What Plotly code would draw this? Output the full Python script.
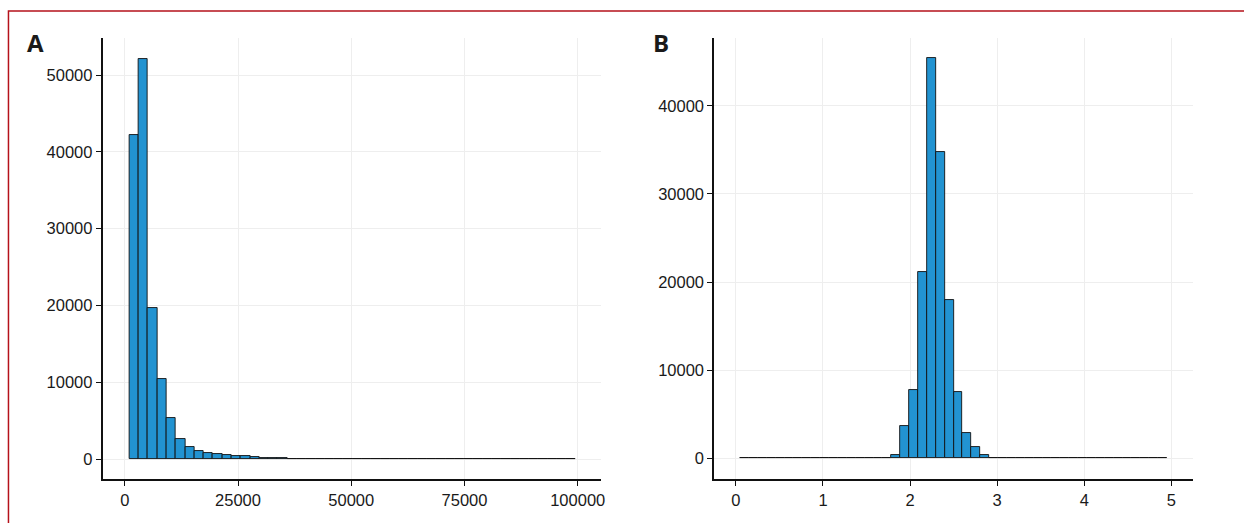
import plotly.graph_objects as go

# Panel A: histogram of raw values (48 equal-width bins)
a_bin_start = 1030
a_bin_width = 2050
a_counts = [42230, 52070, 19690, 10450, 5400, 2630, 1550, 1080, 780, 650,
            520, 430, 350, 240, 170, 120, 85, 60, 42, 30,
            22, 16, 12, 9, 7, 6, 5, 4, 4, 3,
            3, 3, 2, 2, 2, 2, 2, 1, 1, 1,
            1, 1, 1, 1, 1, 1, 1, 1]
a_xticks = [0, 25000, 50000, 75000, 100000]
a_yticks = [0, 10000, 20000, 30000, 40000, 50000]

# Panel B: histogram of log10-transformed values (48 equal-width bins)
b_bin_start = 0.05
b_bin_width = 0.1021
b_counts = [1, 1, 1, 1, 1, 1, 1, 1, 2, 2,
            2, 2, 3, 4, 6, 15, 60, 350, 3670, 7730,
            21170, 45450, 34730, 17950, 7540, 2840, 1330, 370, 90, 30,
            12, 6, 4, 3, 2, 2, 2, 1, 1, 1,
            1, 1, 1, 1, 1, 1, 1, 1]
b_xticks = [0, 1, 2, 3, 4, 5]
b_yticks = [0, 10000, 20000, 30000, 40000]

BAR_FILL = "#2293D1"
BAR_LINE = "#111111"
W, H = 1244, 523


def centers(start, width, n):
    return [start + width * (i + 0.5) for i in range(n)]


fig = go.Figure()
fig.add_trace(go.Bar(
    x=centers(a_bin_start, a_bin_width, len(a_counts)), y=a_counts,
    width=a_bin_width, xaxis="x", yaxis="y",
    marker=dict(color=BAR_FILL, line=dict(color=BAR_LINE, width=0.9)),
    showlegend=False, hoverinfo="x+y"))
fig.add_trace(go.Bar(
    x=centers(b_bin_start, b_bin_width, len(b_counts)), y=b_counts,
    width=b_bin_width, xaxis="x2", yaxis="y2",
    marker=dict(color=BAR_FILL, line=dict(color=BAR_LINE, width=0.9)),
    showlegend=False, hoverinfo="x+y"))

tick_font = dict(family="Liberation Sans, Arial, sans-serif", size=16.5, color="#1a1a1a")
axis_common = dict(
    showline=True, linecolor="#111111", linewidth=1.6,
    ticks="outside", ticklen=5, tickwidth=1.4, tickcolor="#111111",
    showgrid=True, gridcolor="#EEEEEE", gridwidth=1,
    zeroline=False, tickfont=tick_font, tickformat="d", tickmode="array",
)

y_dom = [1 - 479 / H, 1 - 38 / H]
label_font = dict(family="Open Sans, Liberation Sans, sans-serif", size=24, color="#1a1a1a")

fig.update_layout(
    width=W, height=H,
    margin=dict(l=0, r=0, t=0, b=0),
    paper_bgcolor="white", plot_bgcolor="white",
    bargap=0, barmode="overlay",
    xaxis=dict(axis_common, domain=[103 / W, 603 / W], range=[-4900, 105050],
               tickvals=a_xticks, anchor="y"),
    yaxis=dict(axis_common, domain=y_dom, range=[-2600, 54820],
               tickvals=a_yticks, anchor="x"),
    xaxis2=dict(axis_common, domain=[717 / W, 1198 / W], range=[-0.25, 5.25],
                tickvals=b_xticks, anchor="y2"),
    yaxis2=dict(axis_common, domain=y_dom, range=[-2350, 47700],
                tickvals=b_yticks, anchor="x2"),
    annotations=[
        dict(text="<b>A</b>", xref="paper", yref="paper", x=25 / W, y=1 - 24 / H,
             xanchor="left", yanchor="top", showarrow=False, font=label_font),
        dict(text="<b>B</b>", xref="paper", yref="paper", x=654 / W, y=1 - 24 / H,
             xanchor="left", yanchor="top", showarrow=False, font=label_font),
    ],
    shapes=[
        # page frame
        dict(type="rect", xref="paper", yref="paper",
             x0=8.5 / W, x1=1.02, y0=-0.02, y1=1 - 11 / H,
             line=dict(color="#B5121B", width=1.5), fillcolor="rgba(0,0,0,0)",
             layer="above"),
    ],
)

fig.write_html("out.html")
